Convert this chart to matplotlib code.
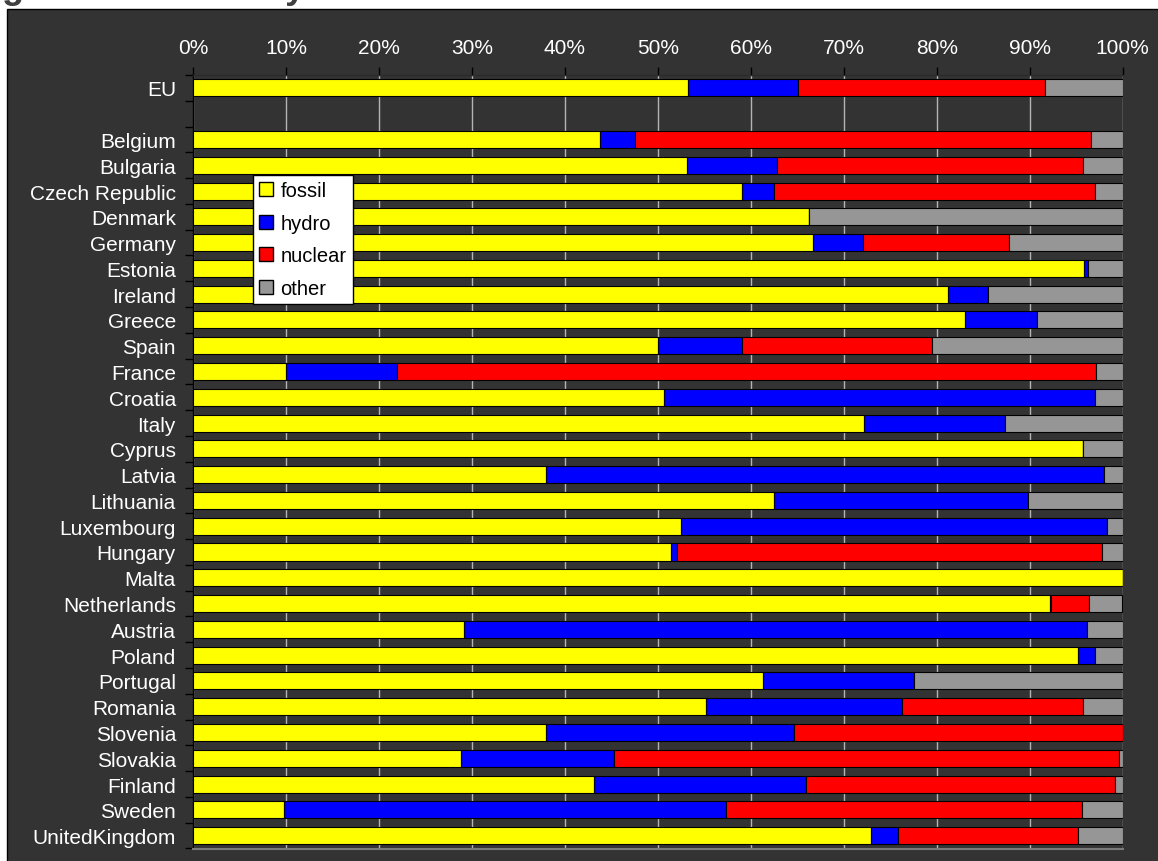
import matplotlib
matplotlib.use("Agg")
import matplotlib.pyplot as plt
from matplotlib.patches import Rectangle, Patch
import numpy as np

plt.rcParams['font.family'] = ['Liberation Sans', 'DejaVu Sans']

countries = ["EU", "Belgium", "Bulgaria", "Czech Republic", "Denmark", "Germany",
             "Estonia", "Ireland", "Greece", "Spain", "France", "Croatia", "Italy",
             "Cyprus", "Latvia", "Lithuania", "Luxembourg", "Hungary", "Malta",
             "Netherlands", "Austria", "Poland", "Portugal", "Romania", "Slovenia",
             "Slovakia", "Finland", "Sweden", "UnitedKingdom"]

# shares in %
fossil = [53.2, 43.8, 53.1, 59.0, 66.3, 66.7, 95.9, 81.2, 83.0, 50.0, 10.0, 50.7, 72.2,
          95.7, 38.0, 62.5, 52.5, 51.4, 100.0, 92.2, 29.1, 95.2, 61.3, 55.2, 38.0,
          28.8, 43.1, 9.8, 72.9]
hydro = [11.9, 3.7, 9.7, 3.5, 0.0, 5.4, 0.4, 4.3, 7.8, 9.1, 11.9, 46.3, 15.2,
         0.0, 60.0, 27.3, 45.8, 0.7, 0.0, 0.1, 67.1, 1.8, 16.3, 21.1, 26.6,
         16.5, 22.8, 47.5, 2.9]
nuclear = [26.6, 49.1, 32.9, 34.5, 0.0, 15.7, 0.0, 0.0, 0.0, 20.4, 75.2, 0.0, 0.0,
           0.0, 0.0, 0.0, 0.0, 45.7, 0.0, 4.1, 0.0, 0.0, 0.0, 19.4, 35.4,
           54.3, 33.3, 38.3, 19.4]
other = [8.3, 3.4, 4.3, 3.0, 33.7, 12.2, 3.7, 14.5, 9.2, 20.5, 2.9, 3.0, 12.6,
         4.3, 2.0, 10.2, 1.7, 2.2, 0.0, 3.6, 3.8, 3.0, 22.4, 4.3, 0.0,
         0.4, 0.8, 4.4, 4.8]

sources = ["fossil", "hydro", "nuclear", "other"]
colors = ["#ffff00", "#0000ff", "#ff0000", "#969696"]

W, H = 1158, 862
fig = plt.figure(figsize=(W / 100, H / 100), dpi=100)
fig.patch.set_facecolor("white")

# dark panel behind the chart
panel = Rectangle((7 / W, -0.05), 1.2, 1.05 - 10 / H, transform=fig.transFigure,
                  facecolor="#333333", edgecolor="black", lw=1, zorder=-10)
fig.add_artist(panel)

# cropped caption at the very top
fig.text(-30 / W, 1.0 + 2 / H, "Figure 3: Electricity mix", fontsize=26,
         fontweight="bold", color="#404040", va="baseline", ha="left")

ax = fig.add_axes([193.3 / W, 1 - 849.5 / H, (1122.5 - 193.3) / W, (849.5 - 76) / H])
ax.set_zorder(1)
ax.set_facecolor("#333333")

# EU on top, one empty slot, then the member states
ypos = np.array([0] + list(range(2, len(countries) + 1)))
data = np.array([fossil, hydro, nuclear, other])
left = np.zeros(len(countries))
for vals, name, col in zip(data, sources, colors):
    ax.barh(ypos, vals, left=left, height=0.66, color=col, edgecolor="black",
            linewidth=0.8, label=name, zorder=3)
    left = left + vals

ax.set_xlim(0, 100)
ax.set_ylim(len(countries) + 0.5, -0.5)

ax.xaxis.tick_top()
ax.set_xticks(range(0, 101, 10))
ax.set_xticklabels([f"{v}%" for v in range(0, 101, 10)])
ax.tick_params(axis="x", which="major", direction="out", length=6, width=1,
               color="black", labelcolor="white", labelsize=15, pad=7)

ax.set_yticks(ypos)
ax.set_yticklabels(countries)
ax.set_yticks(np.arange(-0.5, len(countries) + 1, 1), minor=True)
ax.tick_params(axis="y", which="major", length=0, labelcolor="white", labelsize=15, pad=12.5)
ax.tick_params(axis="y", which="minor", length=6, width=1, color="black", direction="out")

ax.set_axisbelow(True)
ax.grid(axis="x", color="#b4b4b4", linewidth=1, zorder=0)

ax.spines["left"].set_color("black")
ax.spines["left"].set_linewidth(1)
ax.spines["top"].set_color("#2a2a2a")
ax.spines["top"].set_linewidth(1)
ax.spines["bottom"].set_color("#7a7a7a")
ax.spines["bottom"].set_linewidth(1.5)
ax.spines["right"].set_visible(False)

handles = [Patch(facecolor=c, edgecolor="black", linewidth=1) for c in colors]
leg = ax.legend(handles, sources, loc="upper left",
                bbox_to_anchor=(0.0646, 0.8707), borderaxespad=0,
                fontsize=14.5, frameon=True, fancybox=False,
                handlelength=0.7, handleheight=0.7, handletextpad=0.35,
                labelspacing=0.68, borderpad=0.3)
leg.get_frame().set_facecolor("white")
leg.get_frame().set_edgecolor("black")
leg.get_frame().set_linewidth(1)
leg.get_frame().set_alpha(1)
leg.set_zorder(5)

fig.savefig("out.png", dpi=100)
